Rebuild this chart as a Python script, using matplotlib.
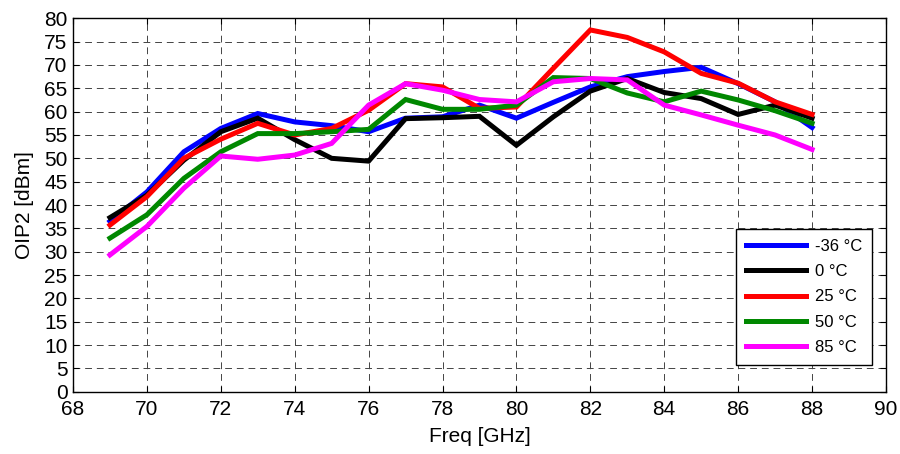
import matplotlib
matplotlib.use("Agg")
import matplotlib.pyplot as plt

plt.rcParams['font.family'] = ['Liberation Sans', 'DejaVu Sans']

freq = list(range(69, 89))

oip2_m36 = [36.5, 42.8, 51.4, 56.4, 59.6, 57.8, 57.0, 55.7, 58.6, 58.9, 61.4, 58.6,
            62.0, 65.3, 67.5, 68.6, 69.5, 66.0, 62.1, 56.6]
oip2_0 = [37.3, 42.1, 49.6, 55.7, 58.6, 54.0, 50.0, 49.4, 58.5, 58.7, 59.0, 52.8,
          58.9, 64.4, 67.1, 64.1, 62.8, 59.4, 61.4, 58.6]
oip2_25 = [35.7, 41.8, 50.0, 54.1, 57.5, 55.0, 56.4, 60.3, 66.0, 65.3, 60.7, 61.0,
           69.3, 77.5, 75.9, 72.8, 68.2, 66.1, 62.1, 59.4]
oip2_50 = [32.9, 37.9, 45.7, 51.4, 55.3, 55.3, 55.7, 56.2, 62.6, 60.5, 60.5, 61.4,
           67.3, 67.1, 64.0, 62.1, 64.4, 62.5, 60.2, 57.5]
oip2_85 = [29.3, 35.4, 43.6, 50.5, 49.8, 50.7, 53.2, 61.4, 66.0, 64.6, 62.6, 62.1,
           66.4, 67.1, 66.8, 61.4, 59.3, 57.1, 55.0, 51.9]

series = [oip2_m36, oip2_0, oip2_25, oip2_50, oip2_85]
labels = ['-36 °C', '0 °C', '25 °C', '50 °C', '85 °C']
colors = ['#0000ff', '#000000', '#ff0000', '#008800', '#ff00ff']

fig = plt.figure(figsize=(9, 4.54), dpi=100)
ax = fig.add_axes([0.0811, 0.1372, 0.9033, 0.8225])

for y, lab, c in zip(series, labels, colors):
    ax.plot(freq, y, color=c, lw=3.6, label=lab, solid_joinstyle='miter')

ax.set_xlim(68, 90)
ax.set_ylim(0, 80)
ax.set_xticks(range(68, 91, 2))
ax.set_yticks(range(0, 81, 5))
ax.tick_params(direction='in', top=True, right=True, labelsize=15, length=4)
ax.tick_params(axis='x', pad=6)
ax.tick_params(axis='y', pad=4)
ax.grid(True, color='#444444', linestyle=(0, (7, 5)), linewidth=0.7)
for s in ax.spines.values():
    s.set_linewidth(1.0)

ax.set_xlabel('Freq [GHz]', fontsize=15, labelpad=6)
ax.set_ylabel('OIP2 [dBm]', fontsize=15, labelpad=7)

leg = ax.legend(loc='lower right', bbox_to_anchor=(0.983, 0.0715), fontsize=12,
                frameon=True, fancybox=False, edgecolor='black', framealpha=1,
                handlelength=3.6, labelspacing=0.62, borderpad=0.6, handletextpad=0.55,
                borderaxespad=0)
leg.get_frame().set_linewidth(1.0)

fig.savefig('out.png', dpi=100)
